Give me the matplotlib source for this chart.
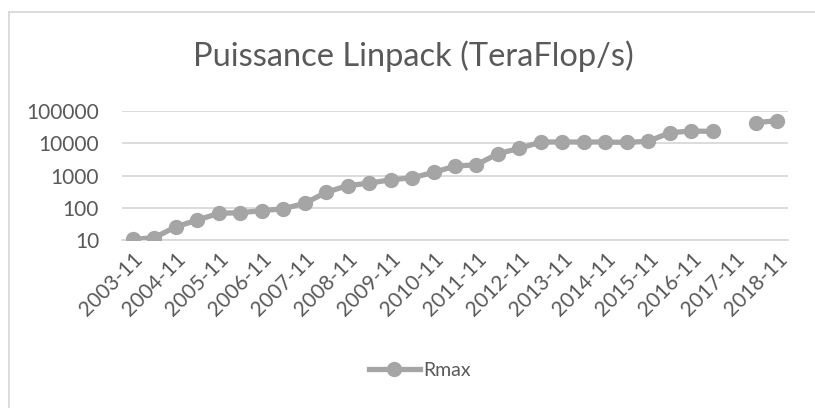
import numpy as np
import matplotlib
matplotlib.use("Agg")
import matplotlib.pyplot as plt
from matplotlib.lines import Line2D

plt.rcParams["font.family"] = ["Lato", "DejaVu Sans"]

TXT = "#595959"
GRID = "#D9D9D9"
LINE = "#A5A5A5"

# semi-annual lists, 2003-11 .. 2018-11 (2017-11 missing)
periods = []
for y in range(2003, 2019):
    if y > 2003:
        periods.append(f"{y}-06")
    periods.append(f"{y}-11")

rmax = [10.7, 12, 26, 42, 68, 71, 82, 94, 138, 302,
        486, 580, 735, 850, 1240, 1950, 2150, 4700, 6900, 10800,
        10800, 10800, 10800, 10500, 11400, 21000, 23500, 23000, np.nan, 43000,
        49000]

tick_labels = [p for p in periods if p.endswith("-11")]

fig = plt.figure(figsize=(8.15, 4.08), dpi=100)
ax = fig.add_axes([122 / 815, 1 - 240.3 / 408, 666 / 815, (240.3 - 110.7) / 408])

x = np.arange(len(periods))
ax.plot(x, rmax, "-o", color=LINE, lw=3.8, markersize=10, zorder=3)

ax.set_yscale("log")
ax.set_ylim(10, 100000)
ax.set_xlim(-0.5, len(periods) - 0.5)
ax.set_yticks([10, 100, 1000, 10000, 100000])
ax.set_yticklabels(["10", "100", "1000", "10000", "100000"])
ax.minorticks_off()
ax.yaxis.grid(True, color=GRID, lw=1.3)
ax.set_axisbelow(True)

tick_pos = [i for i, p in enumerate(periods) if p.endswith("-11")]
ax.set_xticks(tick_pos)
ax.set_xticklabels(tick_labels, rotation=45, ha="right", rotation_mode="anchor")

for s in ax.spines.values():
    s.set_visible(False)
ax.spines["bottom"].set_visible(True)
ax.spines["bottom"].set_color(GRID)
ax.spines["bottom"].set_linewidth(1.3)
ax.tick_params(axis="both", length=0, colors=TXT, labelsize=15)
ax.tick_params(axis="y", pad=16.5)
ax.tick_params(axis="x", pad=6)

fig.text(413 / 815, 1 - 56 / 408, "Puissance Linpack (TeraFlop/s)",
         ha="center", va="center", fontsize=23.5, color=TXT)

# legend
h = Line2D([], [], color=LINE, lw=3.8, marker="o", markersize=10)
fig.legend([h], ["Rmax"], loc="center", bbox_to_anchor=(420 / 815, 1 - 370 / 408),
           frameon=False, fontsize=14, labelcolor=TXT, handlelength=2.6,
           handletextpad=0.2)

# chart border
fig.add_artist(Line2D([9 / 815, 9 / 815], [0, 1 - 12 / 408], transform=fig.transFigure,
                      color=GRID, lw=1.3))
fig.add_artist(Line2D([9 / 815, 1], [1 - 12 / 408, 1 - 12 / 408], transform=fig.transFigure,
                      color=GRID, lw=1.3))

fig.savefig("out.png", dpi=100)
